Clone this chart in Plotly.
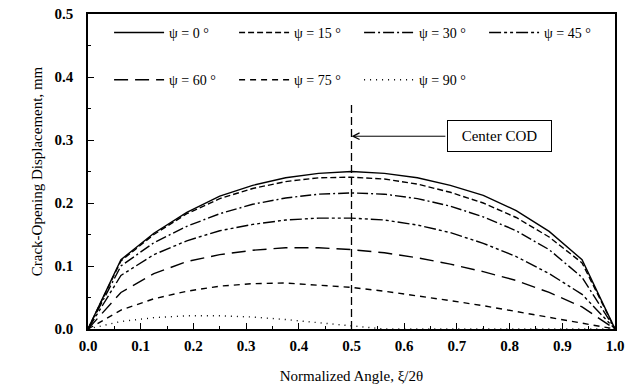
import plotly.graph_objects as go

# ---- data ----
x_vals = [0, 0.0625, 0.125, 0.1875, 0.25, 0.3125, 0.375, 0.4375, 0.5,
          0.5625, 0.625, 0.6875, 0.75, 0.8125, 0.875, 0.9375, 1.0]

psi_0 = [0, 0.110, 0.152, 0.185, 0.211, 0.228, 0.240, 0.247, 0.250,
         0.247, 0.240, 0.228, 0.212, 0.188, 0.155, 0.110, 0]
psi_15 = [0, 0.108, 0.150, 0.183, 0.207, 0.223, 0.234, 0.240, 0.241,
          0.238, 0.230, 0.217, 0.200, 0.177, 0.146, 0.105, 0]
psi_30 = [0, 0.100, 0.137, 0.163, 0.183, 0.198, 0.208, 0.214, 0.216,
          0.214, 0.207, 0.195, 0.178, 0.156, 0.126, 0.082, 0]
psi_45 = [0, 0.085, 0.118, 0.140, 0.156, 0.166, 0.173, 0.176, 0.176,
          0.173, 0.165, 0.153, 0.136, 0.115, 0.088, 0.055, 0]
psi_60 = [0, 0.058, 0.088, 0.107, 0.118, 0.125, 0.129, 0.129, 0.126,
          0.121, 0.113, 0.103, 0.091, 0.077, 0.058, 0.035, 0]
psi_75 = [0, 0.030, 0.048, 0.060, 0.068, 0.072, 0.073, 0.070, 0.066,
          0.060, 0.053, 0.045, 0.037, 0.028, 0.019, 0.009, 0]
psi_90 = [0, 0.012, 0.018, 0.021, 0.021, 0.019, 0.015, 0.010, 0.004,
          0, 0, 0, 0, 0, 0, 0, 0]

series_names = ["ψ = 0 °", "ψ = 15 °", "ψ = 30 °", "ψ = 45 °",
                "ψ = 60 °", "ψ = 75 °", "ψ = 90 °"]
series_values = [psi_0, psi_15, psi_30, psi_45, psi_60, psi_75, psi_90]

center_x = [0.5, 0.5]
center_y = [0.0, 0.36]
center_label = "Center COD"

x_ticks = [0.0, 0.1, 0.2, 0.3, 0.4, 0.5, 0.6, 0.7, 0.8, 0.9, 1.0]
y_ticks = [0.0, 0.1, 0.2, 0.3, 0.4, 0.5]

# ---- styles ----
dashes = ["solid", "6px,3px", "11px,3px,2px,3px", "12px,3px,3px,3px,3px,3px",
          "14px,7px", "6px,5px", "1px,5px"]
legends = ["legend", "legend", "legend", "legend", "legend2", "legend2", "legend2"]

FONT = "Liberation Serif, Times New Roman, serif"

fig = go.Figure()
for name, vals, dash, lg in zip(series_names, series_values, dashes, legends):
    fig.add_trace(go.Scatter(
        x=x_vals, y=vals, mode="lines", name=name,
        line=dict(color="black", width=1.4, dash=dash),
        legend=lg,
    ))

fig.add_trace(go.Scatter(
    x=center_x, y=center_y, mode="lines", showlegend=False,
    line=dict(color="black", width=1.3, dash="8px,4px"),
))

fig.add_annotation(
    x=0.5, y=0.306, ax=0.681, ay=0.306, xref="x", yref="y",
    axref="x", ayref="y", text="", showarrow=True,
    arrowhead=5, arrowsize=1.3, arrowwidth=1, arrowcolor="black",
    standoff=0,
)
fig.add_annotation(
    x=0.7805, y=0.306, xref="x", yref="y", text=center_label,
    showarrow=False, font=dict(family=FONT, size=15, color="black"),
    bordercolor="black", borderwidth=1, borderpad=0, bgcolor="white",
    width=103, height=30,
)

axis_common = dict(
    showgrid=False, zeroline=False, showline=True, linecolor="black",
    linewidth=1.5, mirror=True, ticks="inside", ticklen=6, tickwidth=1.2,
    tickcolor="black", automargin=False,
    tickfont=dict(family=FONT, size=15, color="black", weight="bold"),
    minor=dict(ticks="inside", ticklen=3.5, tickwidth=1, tickcolor="black", dtick=0.05),
)

fig.update_xaxes(
    range=[0, 1.0], tickvals=x_ticks, ticktext=[f"{v:.1f}" for v in x_ticks],
    ticklabelstandoff=2,
    title=dict(text="Normalized Angle, ξ/2θ", font=dict(family=FONT, size=15, color="black"),
               standoff=18),
    **axis_common,
)
fig.update_yaxes(
    range=[0, 0.5], tickvals=y_ticks, ticktext=[f"{v:.1f}" for v in y_ticks],
    ticklabelstandoff=10,
    title=dict(text="Crack-Opening Displacement, mm", font=dict(family=FONT, size=15, color="black"),
               standoff=8),
    **axis_common,
)

legend_common = dict(
    orientation="h", bgcolor="rgba(0,0,0,0)", borderwidth=0,
    font=dict(family=FONT, size=14, color="black"),
    itemwidth=50, entrywidth=60, entrywidthmode="pixels",
    xanchor="left", yanchor="middle", itemclick=False, itemdoubleclick=False,
)
fig.update_layout(
    width=637, height=387,
    margin=dict(l=88, r=22, t=14, b=58),
    paper_bgcolor="white", plot_bgcolor="white",
    legend=dict(x=0.04, y=0.94, **legend_common),
    legend2=dict(x=0.04, y=0.79, **legend_common),
    font=dict(family=FONT, color="black"),
)

fig.write_html("out.html")
